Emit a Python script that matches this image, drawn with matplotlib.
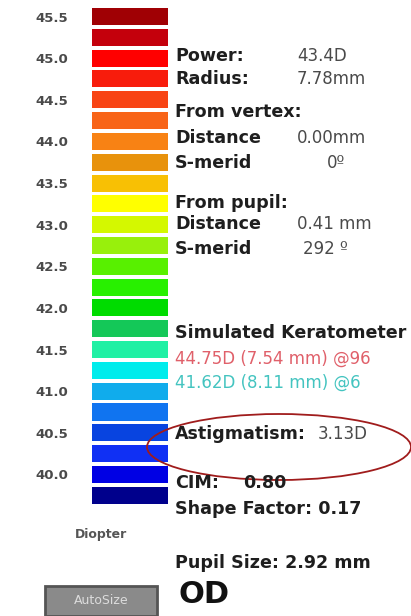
import matplotlib.pyplot as plt
from matplotlib.patches import Ellipse, Rectangle

# scale values (diopters), one block every 0.25 D
diopters = [45.5 - 0.25 * i for i in range(24)]
block_colors = ['#a00004', '#c4000c', '#ff0000', '#f81c0c', '#f84414', '#f86418',
                '#f88214', '#e8920c', '#f8c004', '#ffff00', '#d4f800', '#98f00c',
                '#58f000', '#28f000', '#00dc00', '#14c858', '#20f0a4', '#00ecec',
                '#10acec', '#1074f0', '#0844e0', '#1030f4', '#0000e4', '#00008c']
tick_values = [40.0, 40.5, 41.0, 41.5, 42.0, 42.5, 43.0, 43.5, 44.0, 44.5, 45.0, 45.5]

# readouts
power = 43.4
radius = 7.78
vertex_dist = 0.00
vertex_merid = 0
pupil_dist = 0.41
pupil_merid = 292
k_steep = (44.75, 7.54, 96)
k_flat = (41.62, 8.11, 6)
astig = 3.13
cim = 0.80
shape_factor = 0.17
pupil_size = 2.92
eye = 'OD'

W, H = 411, 616
fig = plt.figure(figsize=(W / 100, H / 100), dpi=100)
fig.patch.set_facecolor('white')


def px(x, y):
    return x / W, 1 - y / H


# colour scale
ax = fig.add_axes([92 / W, (H - 505.7) / H, 76 / W, 499.6 / H])
ax.barh(diopters, width=1, height=0.205, left=0, color=block_colors)
ax.set_xlim(0, 1)
ax.set_ylim(39.625, 45.625)
ax.set_xticks([])
ax.set_yticks(tick_values)
ax.set_yticklabels([f'{v:.1f}' for v in tick_values], fontsize=9.5,
                   fontweight='bold', color='#4a4a4a')
ax.tick_params(axis='y', length=0, pad=17)
for s in ax.spines.values():
    s.set_visible(False)
ax.patch.set_alpha(0)

fig.text(*px(101, 538), 'Diopter', fontsize=9, fontweight='bold', color='#555555',
         ha='center', va='baseline')

# AutoSize button
fig.patches.append(Rectangle(px(45, 616), 112 / W, 30 / H, transform=fig.transFigure,
                             facecolor='#8a8a8a', edgecolor='#555555', lw=2))
fig.text(*px(101, 601), 'AutoSize', fontsize=9, color='#dcdcdc', ha='center', va='center')

lab = dict(fontsize=12.6, fontweight='bold', color='#1e1e1e', va='baseline')
val = dict(fontsize=12, color='#4a4a4a', va='baseline')

fig.text(*px(175, 61), 'Power:', **lab)
fig.text(*px(297, 61), f'{power:.1f}D', **val)
fig.text(*px(175, 84), 'Radius:', **lab)
fig.text(*px(297, 84), f'{radius:.2f}mm', **val)

fig.text(*px(175, 117), 'From vertex:', **lab)
fig.text(*px(175, 143), 'Distance', **lab)
fig.text(*px(297, 143), f'{vertex_dist:.2f}mm', **val)
fig.text(*px(175, 168), 'S-merid', **lab)
fig.text(*px(327, 168), f'{vertex_merid}º', **val)

fig.text(*px(175, 208), 'From pupil:', **lab)
fig.text(*px(175, 229), 'Distance', **lab)
fig.text(*px(297, 229), f'{pupil_dist:.2f} mm', **val)
fig.text(*px(175, 254), 'S-merid', **lab)
fig.text(*px(303, 254), f'{pupil_merid} º', **val)

fig.text(*px(175, 338), 'Simulated Keratometer', **lab)
fig.text(*px(175, 364), f'{k_steep[0]:.2f}D ({k_steep[1]:.2f} mm) @{k_steep[2]}',
         fontsize=12, color='#e0606a', va='baseline')
fig.text(*px(175, 388), f'{k_flat[0]:.2f}D ({k_flat[1]:.2f} mm) @{k_flat[2]}',
         fontsize=12, color='#44c4c0', va='baseline')

fig.text(*px(175, 439), 'Astigmatism:', **lab)
fig.text(*px(318, 439), f'{astig:.2f}D', **val)
fig.patches.append(Ellipse(px(279, 447), 264 / W, 66 / H, transform=fig.transFigure,
                           fill=False, edgecolor='#a01c1c', lw=1.3))

fig.text(*px(175, 488), 'CIM:', **lab)
fig.text(*px(243, 488), f'{cim:.2f}', **lab)
fig.text(*px(175, 514), f'Shape Factor: {shape_factor:.2f}', **lab)
fig.text(*px(175, 568), f'Pupil Size: {pupil_size:.2f} mm', **lab)
fig.text(*px(178, 603), eye, fontsize=22, fontweight='bold', color='#111111', va='baseline')

fig.savefig('out.png', dpi=100)
